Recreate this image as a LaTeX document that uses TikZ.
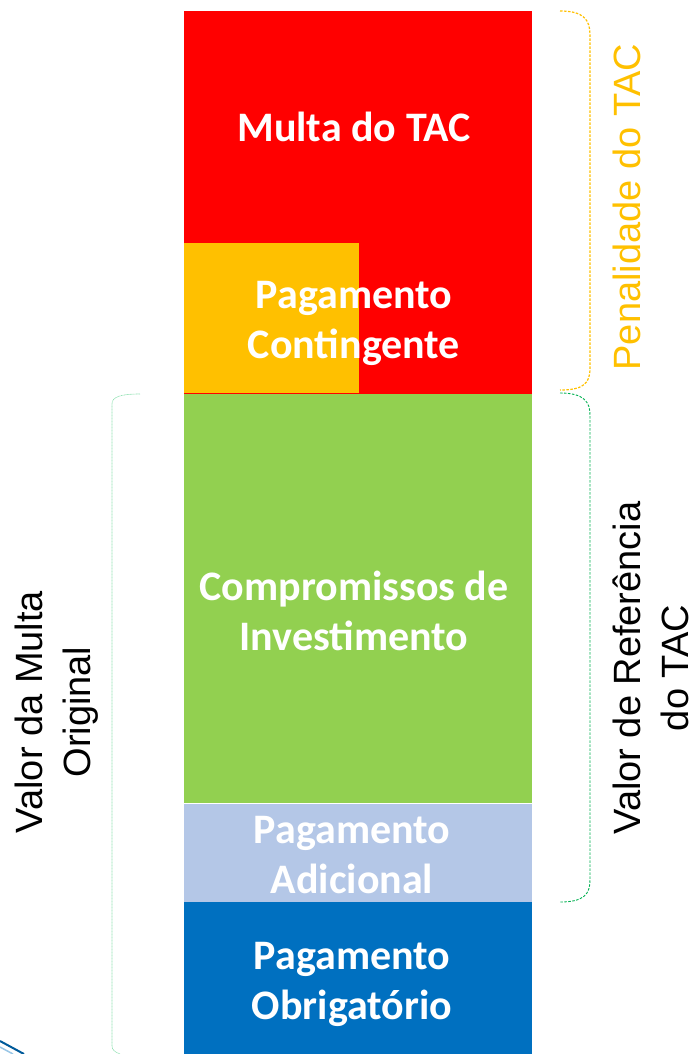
\documentclass[tikz,border=0pt]{standalone}
\usepackage{fontspec}
\setmainfont{Carlito}
\newfontfamily\labfont{Liberation Sans}
\definecolor{cRed}{HTML}{FF0000}
\definecolor{cOrange}{HTML}{FFC000}
\definecolor{cGreen}{HTML}{92D050}
\definecolor{cLight}{HTML}{B4C7E7}
\definecolor{cBlue}{HTML}{0070C0}
\definecolor{cBrGreen}{HTML}{00B050}
\definecolor{cPale}{HTML}{8EE0B0}
\tikzset{
  boxtext/.style={text=white, font=\bfseries\fontsize{42}{50}\selectfont, align=center},
  sidetext/.style={font=\labfont\fontsize{38}{48}\selectfont, align=center, rotate=90, inner sep=0pt},
  brace/.style={dashed, dash pattern=on 2.5pt off 1.5pt, line width=1.2pt},
}
\begin{document}
\begin{tikzpicture}[x=1pt,y=-1pt]
\useasboundingbox (0,0) rectangle (698,1054);
% blocks
\fill[cRed] (184,11) rectangle (532,394);
\fill[cOrange] (184,243) rectangle (359,393);
\fill[cGreen] (184,394) rectangle (532,803);
\fill[cLight] (184,804) rectangle (532,902);
\fill[cBlue] (184,902) rectangle (532,1054);
% texts
\node[boxtext] (multa) at (354,127) {Multa do TAC};
\node[boxtext] (cont) at (354,323) {Pagamento\\Contingente};
\node[boxtext] (comp) at (354,611) {Compromissos de\\Investimento};
\node[boxtext] (adic) at (352,855) {Pagamento\\Adicional};
\node[boxtext] (obrig) at (352,984) {Pagamento\\Obrigatório};
% braces
\draw[brace, cOrange] (560,11) .. controls (584,11) and (590,20) .. (590,35) -- (590,368) .. controls (590,383) and (584,390) .. (560,390);
\draw[brace, cBrGreen, line width=0.9pt] (560,393) .. controls (584,393) and (590,402) .. (590,415) -- (590,880) .. controls (590,894) and (584,902) .. (560,902);
\draw[cPale, line width=0.6pt, dash pattern=on 1pt off 0.5pt] (140,394) .. controls (120,394) and (112,397) .. (112,404) -- (112,1046) .. controls (112,1050) and (115,1052) .. (120,1054);
% side labels
\node[sidetext, text=cOrange] (pen) at (627,207) {Penalidade do TAC};
\node[sidetext, text=black] (ref) at (651,668) {Valor de Referência\\do TAC};
\node[sidetext, text=black] (orig) at (57,712) {Valor da Multa\\Original};
% corner swoosh
\draw[cBlue!80!black, line width=2pt] (0,1041) -- (24,1054);
\draw[cBlue!40, line width=1.5pt] (0,1047) -- (13,1054);
\end{tikzpicture}
\end{document}
